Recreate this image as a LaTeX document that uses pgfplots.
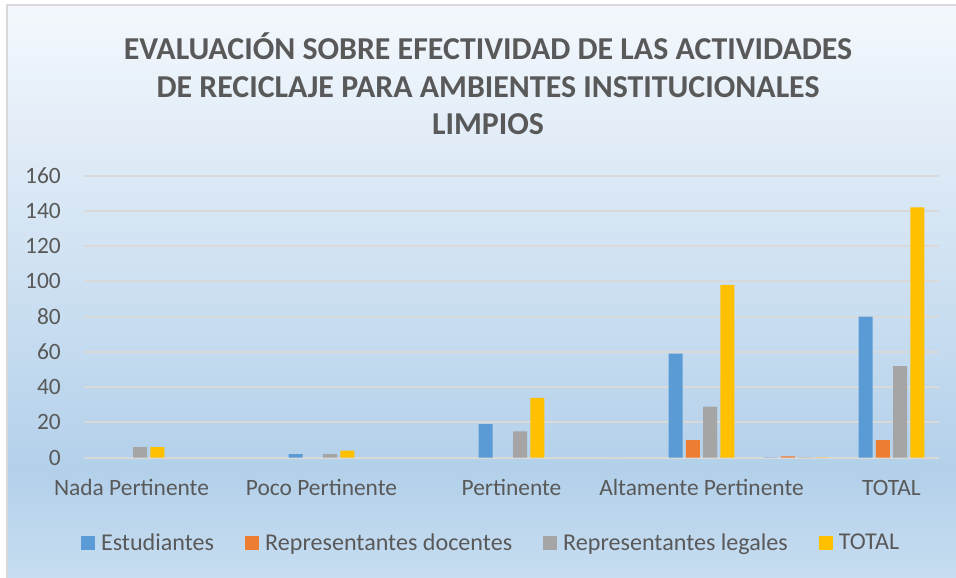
\documentclass[border=0pt]{standalone}
\usepackage{pgfplots}
\pgfplotsset{compat=1.18}
\usepackage{fontspec}
\setmainfont{Carlito}
\definecolor{cblue}{HTML}{5B9BD5}
\definecolor{corange}{HTML}{ED7D31}
\definecolor{cgrey}{HTML}{A5A5A5}
\definecolor{cyellow}{HTML}{FFC000}
\definecolor{txtgray}{HTML}{595959}
\definecolor{gridgray}{HTML}{D9D9D9}
\definecolor{bgtop}{HTML}{F4F8FD}
\definecolor{bgmid}{HTML}{B3D0EA}
\definecolor{bgbot}{HTML}{C8DEF1}
\begin{document}
\begin{tikzpicture}
\path[use as bounding box] (0bp,0bp) rectangle (956bp,-578bp);
\shade[top color=bgtop, bottom color=bgmid] (7bp,-5bp) rectangle (960bp,-470bp);
\shade[top color=bgmid, bottom color=bgbot] (7bp,-470bp) rectangle (960bp,-582bp);
\draw[gridgray, line width=1.5bp] (7bp,-582bp) -- (7bp,-5bp) -- (960bp,-5bp);
\node[align=center, text=txtgray, font=\fontsize{32}{37.5}\selectfont\bfseries] at (488bp,-84bp)
  {EVALUACIÓN SOBRE EFECTIVIDAD DE LAS ACTIVIDADES\\DE RECICLAJE PARA AMBIENTES INSTITUCIONALES\\LIMPIOS};
\begin{axis}[
  at={(84bp,-457.7bp)}, anchor=south west,
  width=855bp, height=282bp, scale only axis,
  xmin=-0.5, xmax=8.5, ymin=0, ymax=160,
  ytick={0,20,...,160},
  xtick={0,2,4,6,8},
  xticklabels={Nada Pertinente,Poco Pertinente,Pertinente,Altamente Pertinente,TOTAL},
  ybar=3.3bp, bar width=14bp,
  axis line style={draw=none},
  major tick length=0pt,
  ymajorgrids, grid style={gridgray, line width=2bp},
  /pgf/number format/assume math mode=true,
  tick label style={text=txtgray, font=\fontsize{23.5}{28}\selectfont},
  yticklabel style={inner sep=0pt, xshift=-23bp},
  xticklabel style={inner sep=0pt, anchor=center, yshift=-30bp},
  legend columns=4,
  legend style={at={(0.475,-0.302)}, anchor=center, draw=none, fill=none,
    font=\fontsize{24.2}{28}\selectfont, text=txtgray,
    nodes={inner sep=0pt},
    /tikz/every odd column/.append style={column sep=6bp},
    /tikz/every even column/.append style={column sep=31bp}},
  legend image code/.code={\draw[#1,draw=none] (0bp,-7bp) rectangle (14bp,7bp);},
]
\addplot[fill=cblue, draw=none] coordinates {(2,2) (4,19) (6,59) (7,0.2) (8,80)};
\addplot[fill=corange, draw=none] coordinates {(6,10) (7,0.8) (8,10)};
\addplot[fill=cgrey, draw=none] coordinates {(0,6) (2,2) (4,15) (5,0.1) (6,29) (7,0.15) (8,52)};
\addplot[fill=cyellow, draw=none] coordinates {(0,6) (2,4) (4,34) (6,98) (7,0.2) (8,142)};
\legend{Estudiantes, Representantes docentes, Representantes legales, TOTAL}
\end{axis}
\end{tikzpicture}
\end{document}
